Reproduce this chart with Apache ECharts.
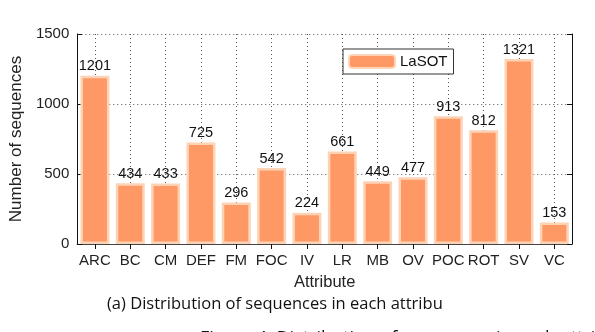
<!DOCTYPE html>
<html><head><meta charset="utf-8">
<script src="https://cdn.jsdelivr.net/npm/echarts@6/dist/echarts.min.js"></script>
<style>html,body{margin:0;padding:0;background:#fff;}#c{width:595px;height:332px;}</style>
</head><body><div id="c"></div>
<script>
const categories = ['ARC','BC','CM','DEF','FM','FOC','IV','LR','MB','OV','POC','ROT','SV','VC'];
const lasot = [1201,434,433,725,296,542,224,661,449,477,913,812,1321,153];
const yTicks = [0,500,1000,1500];
const seriesName = 'LaSOT';
const xTitle = 'Attribute';
const yTitle = 'Number of sequences';
const caption = '(a) Distribution of sequences in each attribu';
const figCaption = 'Figure 4: Distribution of sequences in each attribute. Left: the';

const font = "'Liberation Sans', Arial, sans-serif";
const capFont = "'Open Sans', 'Noto Sans', sans-serif";
const chart = echarts.init(document.getElementById('c'));
const dotted = {color:'#555', type:[1,3], width:1};
chart.setOption({
  animation:false,
  grid:{left:77, right:23, top:34, bottom:88},
  legend:{
    data:[seriesName], left:343, top:49, width:108, height:24,
    padding:[5,6,5,5], itemWidth:46, itemHeight:13, itemGap:4,
    borderColor:'#333', borderWidth:1, backgroundColor:'#fff',
    textStyle:{fontFamily:font, fontSize:15, color:'#111'}
  },
  xAxis:[{
    type:'category', data:categories, position:'bottom',
    name:xTitle, nameLocation:'middle', nameGap:30,
    nameTextStyle:{fontFamily:font, fontSize:16.5, color:'#222'},
    axisLine:{lineStyle:{color:'#111', width:1}},
    axisTick:{show:true, inside:true, alignWithLabel:true, length:5, lineStyle:{color:'#111'}},
    axisLabel:{fontFamily:font, fontSize:15, color:'#222', margin:9, interval:0},
    splitLine:{show:true, alignWithLabel:true, lineStyle:dotted}
  },{
    type:'category', data:categories, position:'top',
    axisLine:{lineStyle:{color:'#444', width:1}},
    axisTick:{show:true, inside:true, alignWithLabel:true, length:5, lineStyle:{color:'#111'}},
    axisLabel:{show:false}, splitLine:{show:false}
  }],
  yAxis:[{
    type:'value', min:yTicks[0], max:yTicks[yTicks.length-1], interval:yTicks[1]-yTicks[0],
    name:yTitle, nameLocation:'middle', nameGap:48,
    nameTextStyle:{fontFamily:font, fontSize:17, color:'#222'},
    axisLine:{show:true, lineStyle:{color:'#111', width:1}},
    axisTick:{show:true, inside:true, length:5, lineStyle:{color:'#111'}},
    axisLabel:{fontFamily:font, fontSize:15, color:'#222', margin:8, formatter:(v)=>String(v)},
    splitLine:{show:true, lineStyle:dotted}
  },{
    type:'value', position:'right', min:yTicks[0], max:yTicks[yTicks.length-1], interval:yTicks[1]-yTicks[0],
    axisLine:{show:true, lineStyle:{color:'#111', width:1}},
    axisTick:{show:true, inside:true, length:5, lineStyle:{color:'#111'}},
    axisLabel:{show:false}, splitLine:{show:false}
  }],
  series:[{
    name:seriesName, type:'bar', data:lasot, barWidth:'82%',
    itemStyle:{color:'#fe9966', borderColor:'#fdd3b6', borderWidth:2.5},
    label:{show:true, position:'top', distance:2, fontFamily:font, fontSize:14.5, color:'#111'}
  }],
  graphic:[
    {type:'text', left:107, top:296, style:{text:caption, fontFamily:capFont, fontSize:16.5, fill:'#111'}},
    {type:'text', left:200, top:330, style:{text:figCaption, fontFamily:capFont, fontSize:18, fill:'#111'}}
  ]
});
</script></body></html>
